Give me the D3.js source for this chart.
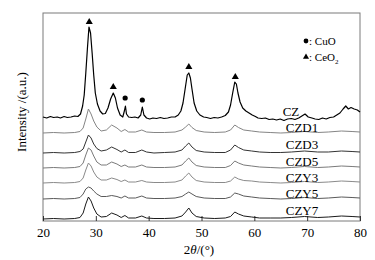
<!DOCTYPE html>
<html><head><meta charset="utf-8">
<script src="https://cdn.jsdelivr.net/npm/d3@7/dist/d3.min.js"></script>
<style>
html,body{margin:0;padding:0;background:#fff;}
svg{display:block;}
text{font-family:"Liberation Serif","Times New Roman",serif;fill:#000;}
</style></head>
<body>
<svg id="chart" width="375" height="260"></svg>
<script>
// ---- data (2θ in degrees, intensity in offset a.u.) ----
const xTicks = [20, 30, 40, 50, 60, 70, 80];

const czData = [[20,104],[20.7,103],[21.4,104.5],[22,103.5],[22.7,104],[23.3,103],[24,104.5],[24.6,103.5],[25.3,104],[26,105],[26.6,104.5],[27.1,107],[27.5,115],[27.8,126],[28.1,148],[28.4,172],[28.7,194],[29.0,188],[29.3,168],[29.6,146],[29.9,128],[30.3,117],[30.8,110],[31.3,107],[31.8,107.5],[32.3,113],[32.8,122],[33.3,128],[33.7,123],[34.1,113],[34.6,106],[35.1,104],[35.4,110],[35.6,115],[35.8,107],[36.2,104],[36.8,103.5],[37.4,104],[38,103],[38.5,106],[38.8,114],[39.1,106],[39.6,103],[40.2,102],[40.8,103],[41.5,102.5],[42.2,103.5],[42.9,102.5],[43.6,103],[44.3,104],[45,104],[45.6,106],[46.1,110],[46.5,118],[46.9,132],[47.3,146],[47.6,148],[47.9,143],[48.2,132],[48.6,118],[49.1,110],[49.7,106],[50.4,104],[51,103.5],[51.7,102.5],[52.4,103.5],[53.1,103],[53.8,104],[54.5,105.5],[55.1,109],[55.5,116],[55.9,128],[56.3,139],[56.6,137],[56.9,128],[57.3,119],[57.8,113],[58.4,110],[59,108],[59.6,106],[60.2,104.5],[60.7,103],[61.4,102.5],[62.1,103],[62.8,101.5],[63.5,102],[64.2,101],[64.9,102],[65.6,100.5],[66.3,102],[67,102.5],[67.7,101.5],[68.4,103],[69,105],[69.6,107],[70.2,104],[70.9,103],[71.5,102],[72.2,101.5],[72.9,103],[73.6,102],[74.3,103.5],[75,104],[75.6,106],[76.2,108],[76.8,112],[77.3,115],[77.8,112],[78.3,113.5],[78.9,112],[79.5,111],[80,109]];

const angles = [20,22,24,26,27,27.6,28.1,28.6,29.1,29.6,30.2,31,32,33,34,34.8,35.5,36.2,37.5,38.7,39.6,41,43,45,46.3,47,47.6,48.2,49,50.5,52.5,54.5,55.5,56.3,57,58,59.5,61,63,65,67,69.5,72,74,76.5,78.5,80];

const czd1 = [88,88.5,88,88.5,89.5,93,102,112,107,100, 94,90,91,96,93,89.5,91.5,89,89,91, 89,88.5,88.5,89,91,94,97,93.5,90.5,89, 88.5,89,91,96,93.5,91,90,89,88.5,88, 88.5,89.5,88.5,89,90,89.5,89];
const czd3 = [68,68.5,68,68.5,69.5,72,79,86,83,77, 72.5,70,71,74,71.5,69,71,68.5,68.5,71, 69,68,68.5,69,71,75,78,74,70.5,69, 68.5,68.5,71,76,73.5,71,70,69,68.5,68.5, 69,70,69,69,70,69.5,69];
const czd5 = [53,53.5,53,53.5,54.5,58,66,73,71,65, 59,56,56,59,57,54.5,56,54,54,56, 54,53.5,53.5,54,56,60,63,59,55.5,54, 53.5,53.5,55.5,60,58,56,55,54,53.5,53, 53.5,54.5,53.5,54,55,54.5,54];
const czy3 = [38,38.5,38,38.5,39.5,43,51,58,55,49, 44,41,41,43,41.5,39.5,41,39,39,40.5, 39,38.5,38.5,39,41,45,48,44,40.5,39, 38.5,38.5,40,44,42,40.5,40,39,38.5,38, 38.5,39.5,38.5,39,40,39.5,39];
const czy5 = [22,22.5,22,22.5,23.5,27,32,34,33,30, 27,24.5,24.5,25.5,24.5,23,25,23,23,25, 23,22.5,22.5,23,24.5,27,29,27,24.5,23, 22.5,22.5,24,28,27,25,24,23,22.5,22, 22.5,23.5,22.5,23,24,23.5,23];
const czy7 = [2,2.5,2,2.5,3.5,8,17,24,20,13, 7,4,4.5,8,6,3.5,5.5,3,3,5, 3,2.5,2.5,3,5,9,13,8,4.5,3, 2.5,3,4.5,9,7,5,4,3,3,3, 3.5,4.5,3.5,4,5,4.5,4];

const seriesNames = ["CZD1","CZD3","CZD5","CZY3","CZY5","CZY7"];
const seriesValues = [czd1, czd3, czd5, czy3, czy5, czy7];
const seriesColors = ["#858585","#333333","#7a7a7a","#8a8a8a","#5a5a5a","#1a1a1a"];

// marker positions (2θ, intensity) above CZ peaks
const ceo2Marks = [[28.75,199],[33.3,134],[47.6,154],[56.4,144]];
const cuoMarks = [[35.55,123],[38.8,121]];

// ---- drawing ----
const svg = d3.select("#chart");
const L = 43, R = 360, T = 13, B = 221;
const x = d3.scaleLinear().domain([20, 80]).range([L, R]);
const y = d3.scaleLinear().domain([0, 208]).range([B, T]);

const line = d3.line().x(d => x(d[0])).y(d => y(d[1]));

// frame
svg.append("rect").attr("x", L).attr("y", T).attr("width", R - L).attr("height", B - T)
  .attr("fill", "none").attr("stroke", "#7a7a7a").attr("stroke-width", 1);

// x axis with inward ticks
const xAxis = d3.axisBottom(x).tickValues(xTicks).tickSizeInner(-5).tickSizeOuter(0).tickPadding(7)
  .tickFormat(d3.format("d"));
const gx = svg.append("g").attr("transform", `translate(0,${B})`).call(xAxis);
gx.select(".domain").remove();
gx.selectAll(".tick line").attr("stroke", "#333");
gx.selectAll(".tick text").style("font-family", '"Liberation Serif","Times New Roman",serif')
  .style("font-size", "13px").attr("fill", "#000");

// curves
svg.append("path").datum(czData).attr("d", line).attr("fill", "none")
  .attr("stroke", "#000").attr("stroke-width", 1.2).attr("stroke-linejoin", "round");

seriesValues.forEach((vals, i) => {
  const pts = angles.map((a, j) => [a, vals[j]]);
  svg.append("path").datum(pts).attr("d", line).attr("fill", "none")
    .attr("stroke", seriesColors[i]).attr("stroke-width", 1).attr("stroke-linejoin", "round");
});

// markers
const tri = d3.symbol().type(d3.symbolTriangle).size(22);
svg.selectAll(".ceo2").data(ceo2Marks).enter().append("path")
  .attr("d", tri).attr("transform", d => `translate(${x(d[0])},${y(d[1])})`).attr("fill", "#000");
svg.selectAll(".cuo").data(cuoMarks).enter().append("circle")
  .attr("cx", d => x(d[0])).attr("cy", d => y(d[1])).attr("r", 2.6).attr("fill", "#000");

// series labels
const labelY = [132, 149, 166, 182, 198, 215];
svg.append("text").attr("x", 291).attr("y", 116).attr("text-anchor", "middle")
  .style("font-size", "13px").text("CZ");
seriesNames.forEach((n, i) => {
  svg.append("text").attr("x", 302).attr("y", labelY[i]).attr("text-anchor", "middle")
    .style("font-size", "13px").text(n);
});

// legend
svg.append("circle").attr("cx", 306).attr("cy", 41).attr("r", 2.4).attr("fill", "#000");
svg.append("text").attr("x", 309).attr("y", 45).style("font-size", "11px").text(": CuO");
svg.append("path").attr("d", d3.symbol().type(d3.symbolTriangle).size(16)).attr("transform", "translate(306,57)").attr("fill", "#000");
const ceo = svg.append("text").attr("x", 309).attr("y", 61).style("font-size", "11px");
ceo.append("tspan").text(": CeO");
ceo.append("tspan").attr("dy", 3).style("font-size", "7px").text("2");

// axis titles
const xt = svg.append("text").attr("x", 199).attr("y", 254).attr("text-anchor", "middle").style("font-size", "13px");
xt.append("tspan").text("2");
xt.append("tspan").style("font-style", "italic").text("θ");
xt.append("tspan").text("/(°)");

svg.append("text").attr("transform", "translate(26,112) rotate(-90)").attr("text-anchor", "middle")
  .style("font-size", "13px").text("Intensity /(a.u.)");
</script>
</body></html>
